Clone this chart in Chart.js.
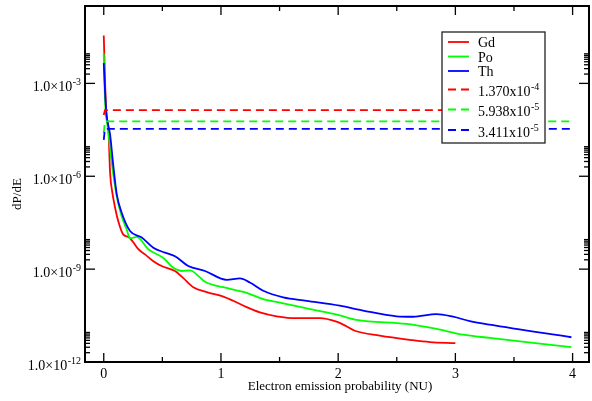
<!DOCTYPE html>
<html lang="en">
<head>
<meta charset="UTF-8" />
<title>dP/dE vs electron emission probability</title>
<style>
  body { margin: 0; background: #fff; }
</style>
</head>
<body>
<canvas id="myChart" width="592" height="401"></canvas>

<script src="https://cdn.jsdelivr.net/npm/chart.js"></script>
<script>
  // values
  const gdX = [0, 0.02, 0.04, 0.054, 0.073, 0.096, 0.124, 0.167, 0.21, 0.252, 0.295, 0.352, 0.423, 0.494, 0.608, 0.679, 0.764, 0.878, 1.02, 1.105, 1.219, 1.332, 1.475, 1.645, 1.844, 1.986, 2.06, 2.142, 2.355, 2.611, 2.782, 3.0];
  const gdY = [3.5e-2, 1.4e-4, 3.2e-5, 1.3e-6, 3.0e-7, 1.0e-7, 3.5e-8, 1.3e-8, 1.1e-8, 7.4e-9, 4.4e-9, 3.0e-9, 1.8e-9, 1.26e-9, 8.7e-10, 5.1e-10, 2.6e-10, 1.8e-10, 1.3e-10, 9.5e-11, 5.9e-11, 4.0e-11, 3.0e-11, 2.6e-11, 2.6e-11, 2.0e-11, 1.5e-11, 1.02e-11, 7.1e-12, 5.2e-12, 4.4e-12, 4.1e-12];

  const poX = [0, 0.011, 0.037, 0.071, 0.111, 0.153, 0.196, 0.224, 0.281, 0.38, 0.508, 0.593, 0.665, 0.736, 0.821, 0.864, 1.02, 1.219, 1.361, 1.531, 1.731, 2.014, 2.157, 2.583, 2.839, 3.066, 3.293, 3.99];
  const poY = [9.3e-3, 2.9e-4, 3.2e-5, 2.3e-6, 2.2e-7, 5.1e-8, 1.9e-8, 9.8e-9, 1.1e-8, 4.4e-9, 2.3e-9, 1.1e-9, 8.7e-10, 9.1e-10, 5.4e-10, 3.9e-10, 2.6e-10, 1.7e-10, 1.07e-10, 7.9e-11, 5.4e-11, 3.2e-11, 2.3e-11, 1.7e-11, 1.17e-11, 7.6e-12, 6.0e-12, 3.0e-12];

  const thX = [0, 0.02, 0.054, 0.082, 0.111, 0.153, 0.224, 0.324, 0.423, 0.523, 0.608, 0.721, 0.864, 1.049, 1.162, 1.247, 1.361, 1.531, 1.731, 2.014, 2.213, 2.498, 2.639, 2.839, 2.98, 3.123, 3.293, 3.99];
  const thY = [4.5e-3, 1.4e-4, 2.2e-5, 2.1e-6, 2.6e-7, 6.6e-8, 1.7e-8, 1.05e-8, 4.9e-9, 3.4e-9, 2.6e-9, 1.26e-9, 8.7e-10, 4.5e-10, 5.0e-10, 3.7e-10, 2.0e-10, 1.23e-10, 9.5e-11, 6.6e-11, 4.6e-11, 3.0e-11, 2.9e-11, 3.5e-11, 2.9e-11, 2.1e-11, 1.6e-11, 6.3e-12];

  const names = ["Gd", "Po", "Th"];
  const colors = ["#ff0000", "#00ff00", "#0000ff"];

  // the dashed reference levels
  const dashLevel = [1.370e-4, 5.938e-5, 3.411e-5];
  const dashStart = [9.5e-5, 2.5e-5, 1.5e-5];
  const dashEnd = [3, 4, 4];

  const xTicks = [0, 1, 2, 3, 4];
  const xMinor = [0.5, 1.5, 2.5, 3.5];
  const yTickExp = [-12, -9, -6, -3];

  const xs = [gdX, poX, thX];
  const ys = [gdY, poY, thY];

  const datasets = [];
  names.forEach((n, i) => {
    datasets.push({
      label: n,
      data: xs[i].map((x, k) => ({ x: x, y: ys[i][k] })),
      borderColor: colors[i],
      borderWidth: 1.8,
      pointRadius: 0,
      cubicInterpolationMode: "monotone",
      fill: false,
      order: 6 - i,
    });
  });
  dashLevel.forEach((v, i) => {
    datasets.push({
      label: v.toExponential(3),
      data: [
        { x: 0, y: dashStart[i] },
        { x: 0.01, y: v },
        { x: dashEnd[i], y: v },
      ],
      borderColor: colors[i],
      borderWidth: 1.8,
      borderDash: [8, 5],
      pointRadius: 0,
      tension: 0,
      fill: false,
      order: 3 - i,
    });
  });

  const SERIF = "'Liberation Serif', 'DejaVu Serif', serif";

  function line(ctx, x1, y1, x2, y2) {
    ctx.beginPath();
    ctx.moveTo(x1, y1);
    ctx.lineTo(x2, y2);
    ctx.stroke();
  }

  // base text plus a raised exponent, starting at x
  function supText(ctx, base, exp, x, baseline) {
    ctx.textAlign = "left";
    ctx.font = "14px " + SERIF;
    ctx.fillText(base, x, baseline);
    const w = ctx.measureText(base).width;
    ctx.font = "10px " + SERIF;
    ctx.fillText(exp, x + w + 0.5, baseline - 6);
  }
  function supWidth(ctx, base, exp) {
    ctx.font = "14px " + SERIF;
    const w = ctx.measureText(base).width;
    ctx.font = "10px " + SERIF;
    return w + 0.5 + ctx.measureText(exp).width;
  }

  const frame = {
    id: "frame",
    afterDatasetsDraw(chart) {
      const { ctx, chartArea: a, scales } = chart;
      const x = scales.x, y = scales.y;
      ctx.save();
      ctx.fillStyle = "#000";
      ctx.strokeStyle = "#000";

      // x ticks, mirrored on top
      ctx.lineWidth = 1.3;
      xTicks.forEach((v) => {
        const px = x.getPixelForValue(v);
        line(ctx, px, a.bottom, px, a.bottom - 9);
        line(ctx, px, a.top, px, a.top + 9);
      });
      xMinor.forEach((v) => {
        const px = x.getPixelForValue(v);
        line(ctx, px, a.bottom, px, a.bottom - 5);
        line(ctx, px, a.top, px, a.top + 5);
      });

      // y ticks, mirrored on the right
      yTickExp.forEach((e) => {
        const py = y.getPixelForValue(Math.pow(10, e));
        line(ctx, a.left, py, a.left + 10, py);
        line(ctx, a.right, py, a.right - 10, py);
        for (let m = 2; m <= 9; m++) {
          const pm = y.getPixelForValue(m * Math.pow(10, e));
          if (pm < a.top) continue;
          line(ctx, a.left, pm, a.left + 5, pm);
          line(ctx, a.right, pm, a.right - 5, pm);
        }
      });

      // frame
      ctx.lineWidth = 2;
      ctx.strokeRect(a.left, a.top, a.right - a.left, a.bottom - a.top);

      // x tick labels
      ctx.font = "14px " + SERIF;
      ctx.textAlign = "center";
      xTicks.forEach((v) => {
        ctx.fillText(String(v), x.getPixelForValue(v), a.bottom + 16);
      });

      // y tick labels
      yTickExp.forEach((e) => {
        const py = y.getPixelForValue(Math.pow(10, e));
        const base = "1.0\u00d710", exp = String(e);
        const w = supWidth(ctx, base, exp);
        supText(ctx, base, exp, a.left - 4 - w, py + 7.5);
      });

      // axis titles
      ctx.font = "13px " + SERIF;
      ctx.textAlign = "center";
      ctx.fillText("Electron emission probability (NU)", 340, 390);
      ctx.save();
      ctx.translate(21, 194);
      ctx.rotate(-Math.PI / 2);
      ctx.font = "13px " + SERIF;
      ctx.fillText("dP/dE", 0, 0);
      ctx.restore();

      // legend box
      const bx = 442, by = 32, bw = 103, bh = 111;
      ctx.fillStyle = "#fff";
      ctx.fillRect(bx, by, bw, bh);
      ctx.strokeStyle = "#222";
      ctx.lineWidth = 1.3;
      ctx.strokeRect(bx, by, bw, bh);

      const rowY = [42, 56.5, 71, 89.5, 109.5, 130];
      ctx.lineWidth = 1.8;
      names.forEach((n, i) => {
        ctx.strokeStyle = colors[i];
        ctx.setLineDash([]);
        line(ctx, 448, rowY[i], 469, rowY[i]);
        ctx.fillStyle = "#000";
        ctx.font = "14px " + SERIF;
        ctx.textAlign = "left";
        ctx.fillText(n, 478, rowY[i] + 5);
      });
      dashLevel.forEach((v, i) => {
        const r = rowY[3 + i];
        ctx.strokeStyle = colors[i];
        ctx.setLineDash([8, 5]);
        line(ctx, 448, r, 470, r);
        ctx.setLineDash([]);
        const parts = v.toExponential(3).split("e");
        ctx.fillStyle = "#000";
        supText(ctx, parts[0] + "x10", parts[1], 478, r + 6.5);
      });
      ctx.restore();
    },
  };

  const ctx = document.getElementById("myChart").getContext("2d");
  const myChart = new Chart(ctx, {
    type: "line",
    data: { datasets: datasets },
    options: {
      responsive: false,
      animation: false,
      devicePixelRatio: 1,
      layout: { padding: { left: 85, right: 3, top: 6, bottom: 39 } },
      plugins: { legend: { display: false }, tooltip: { enabled: false } },
      scales: {
        x: { type: "linear", min: -0.16, max: 4.14, display: false },
        y: { type: "logarithmic", min: 1e-12, max: Math.pow(10, -0.5), display: false },
      },
    },
    plugins: [frame],
  });
</script>
</body>
</html>
